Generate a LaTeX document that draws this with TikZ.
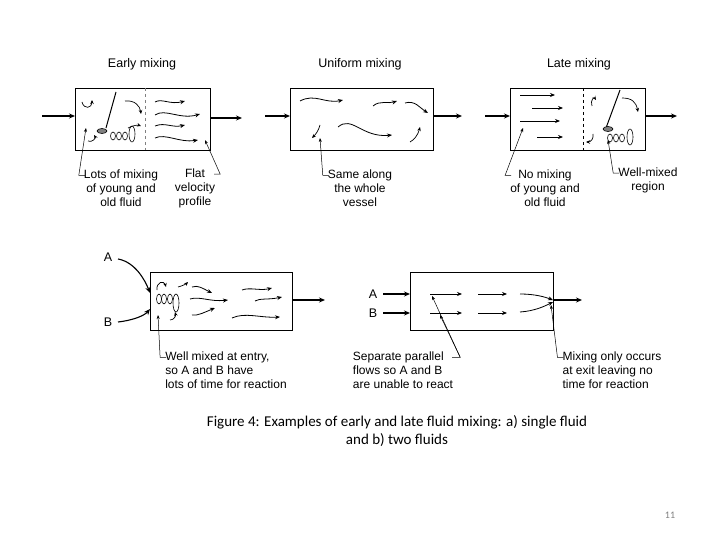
\documentclass[tikz,border=0pt]{standalone}
\usepackage{fontspec}
\setmainfont{Liberation Sans}
\newfontfamily\capfont{Carlito}
\usetikzlibrary{arrows.meta}
\tikzset{
  vessel/.style={draw,line width=0.9pt},
  flow/.style={-{Stealth[length=5pt,width=4pt]},line width=0.8pt},
  swirl/.style={-{Stealth[length=4pt,width=3.5pt]},line width=0.7pt},
  pipe/.style={-{Stealth[length=6pt,width=5pt]},line width=1.1pt},
  lead/.style={-{Stealth[length=4pt,width=3pt]},line width=0.5pt},
  lbl/.style={font=\fontsize{12}{14}\selectfont,align=center,inner sep=1pt},
  ttl/.style={font=\fontsize{12.5}{14}\selectfont}
}
\begin{document}
\begin{tikzpicture}[x=1pt,y=-1pt]
\useasboundingbox (0,0) rectangle (720,540);

% --- a) single fluid
\draw[vessel] (75,88) rectangle (210,150);
\draw[dashed,gray] (145,88) -- (145,150);
\draw[vessel] (290,88) rectangle (433,150);
\draw[vessel] (510,88) rectangle (645,150);
\draw[dashed] (583,88) -- (583,150);

\node[ttl] (t1) at (142,64) {Early mixing};
\node[ttl] (t2) at (360,64) {Uniform mixing};
\node[ttl] (t3) at (579,64) {Late mixing};

% inlets and outlets
\draw[pipe] (42,116) -- (75,116);
\draw[pipe] (210,118) -- (242,118);
\draw[pipe] (265,116) -- (290,116);
\draw[pipe] (433,116) -- (462,116);
\draw[pipe] (485,116) -- (510,116);
\draw[pipe] (645,116) -- (677,116);

% early mixing box
\draw[line width=1pt] (106,128) -- (116,92);
\draw[fill=gray,line width=0.6pt] (102,131) ellipse (5pt and 2.5pt);
\foreach \cx in {113,119,125} \draw[line width=0.6pt] (\cx,136) ellipse (2.5pt and 4pt);
\draw[line width=0.6pt] (132,134) ellipse (3pt and 8pt);
\draw[swirl] (82,102) .. controls (84,110) and (92,108) .. (92,100);
\draw[swirl] (125,101) .. controls (135,100) and (140,106) .. (141,114);
\draw[swirl] (88,141) .. controls (92,143) and (96,138) .. (94,135);
\draw[swirl] (128,128) .. controls (134,125) and (138,125) .. (141,126);
\draw[flow] (155,102) .. controls (162,98) and (170,105) .. (185,101);
\draw[flow] (155,115) .. controls (165,108) and (180,120) .. (200,114);
\draw[flow] (155,126) .. controls (165,122) and (172,128) .. (185,125);
\draw[flow] (155,138) .. controls (165,133) and (180,143) .. (198,140);

% uniform mixing box
\draw[flow] (300,101) .. controls (315,93) and (325,104) .. (343,100);
\draw[flow] (373,106) .. controls (380,100) and (388,104) .. (397,101);
\draw[flow] (405,103) .. controls (415,100) and (420,108) .. (428,113);
\draw[swirl] (320,125) .. controls (318,132) and (315,135) .. (312,138);
\draw[flow] (338,127) .. controls (352,115) and (362,138) .. (392,135);
\draw[swirl] (410,142) .. controls (414,140) and (418,135) .. (420,127);

% late mixing box
\draw[flow] (520,95) -- (555,95);
\draw[flow] (532,108) -- (563,108);
\draw[flow] (520,121) -- (560,121);
\draw[flow] (537,137) -- (563,137);
\draw[line width=1pt] (606,128) -- (620,90);
\draw[fill=gray,line width=0.6pt] (608,129) ellipse (5pt and 2.5pt);
\foreach \cx in {610,616,622} \draw[line width=0.6pt] (\cx,138) ellipse (2.5pt and 4pt);
\draw[line width=0.6pt] (630,137) ellipse (3pt and 8pt);
\draw[swirl] (592,106) .. controls (590,100) and (594,97) .. (596,100);
\draw[swirl] (622,98) .. controls (632,98) and (636,102) .. (638,112);
\draw[swirl] (593,134) .. controls (594,138) and (591,142) .. (586,142);

% leaders, row a
\node[lbl] (n1) at (121,188) {Lots of mixing\\of young and\\old fluid};
\draw[lead] (n1.north west) ++(2,7) coordinate (c1) -- ++(-6,0) -- (86,128);
\node[lbl] (n2) at (195,188) {Flat\\velocity\\profile};
\draw[lead] (n2.north east) ++(-2,7) coordinate (c2) -- ++(6,0) -- (205,140);
\node[lbl] (n3) at (360,188) {Same along\\the whole\\vessel};
\draw[lead] (n3.north west) ++(2,7) coordinate (c3) -- ++(-6,0) -- (320,138);
\node[lbl] (n4) at (545,188) {No mixing\\of young and\\old fluid};
\draw[lead] (n4.north west) ++(2,7) coordinate (c4) -- ++(-6,0) -- (523,128);
\node[lbl] (n5) at (648,180) {Well-mixed\\region};
\draw[lead] (n5.north west) ++(2,7) coordinate (c5) -- ++(-6,0) -- (608,140);

% --- b) two fluids
\draw[vessel] (150,272) rectangle (292,330);
\node[ttl] (A1) at (108,257) {A};
\node[ttl] (B1) at (108,322) {B};
\draw[pipe] (118,259) .. controls (135,262) and (145,280) .. (150,293);
\draw[pipe] (118,322) .. controls (135,320) and (145,315) .. (150,309);
\draw[pipe] (292,300) -- (325,300);
\foreach \cx in {159,164,170} \draw[line width=0.6pt] (\cx,299) ellipse (2.5pt and 5pt);
\draw[line width=0.6pt] (176,303) ellipse (3pt and 9pt);
\draw[swirl] (157,290) .. controls (156,282) and (164,280) .. (166,287);
\draw[swirl] (170,320) .. controls (174,320) and (176,316) .. (175,312);
\draw[swirl] (178,287) .. controls (182,286) and (186,284) .. (188,282);
\draw[flow] (192,287) .. controls (198,285) and (202,288) .. (212,293);
\draw[flow] (190,299) .. controls (200,296) and (210,302) .. (228,300);
\draw[flow] (192,315) .. controls (198,316) and (205,312) .. (215,308);
\draw[flow] (242,290) .. controls (250,287) and (260,291) .. (272,288);
\draw[flow] (255,301) .. controls (260,298) and (268,300) .. (282,297);
\draw[flow] (232,318) .. controls (245,312) and (260,318) .. (280,317);

\draw[vessel] (410,272) rectangle (553,330);
\node[ttl] (A2) at (373,294) {A};
\node[ttl] (B2) at (373,313) {B};
\draw[pipe] (383,294) -- (410,294);
\draw[pipe] (383,313) -- (410,313);
\draw[pipe] (553,300) -- (582,300);
\draw[flow] (430,294) -- (462,294);
\draw[flow] (478,294) -- (507,294);
\draw[flow] (430,313) -- (462,313);
\draw[flow] (478,313) -- (507,313);
\draw[flow] (520,294) .. controls (535,294) and (545,297) .. (553,300);
\draw[flow] (520,312) .. controls (535,311) and (545,306) .. (553,302);

\node[lbl,align=left] (n6) at (226,370) {Well mixed at entry,\\so A and B have\\lots of time for reaction};
\draw[lead] (n6.north west) ++(2,7) coordinate (c6) -- ++(-6,0) -- (158,315);
\node[lbl,align=left] (n7) at (403,370) {Separate parallel\\flows so A and B\\are unable to react};
\draw[lead] (n7.north east) ++(-2,7) coordinate (c7) -- ++(8,0) coordinate (c7b) -- (432,296);
\draw[lead] (c7b) -- (440,315);
\node[lbl,align=left] (n8) at (612,370) {Mixing only occurs\\at exit leaving no\\time for reaction};
\draw[lead] (n8.north west) ++(2,7) coordinate (c8) -- ++(-6,0) -- (551,305);

% caption
\node[font=\capfont\fontsize{15}{18}\selectfont,align=center] (cap) at (397,431)
  {Figure 4: Examples of early and late fluid mixing: a) single fluid\\and b) two fluids};
\node[font=\capfont\fontsize{10}{10}\selectfont,text=gray] (pg) at (670,515) {11};
\end{tikzpicture}
\end{document}
